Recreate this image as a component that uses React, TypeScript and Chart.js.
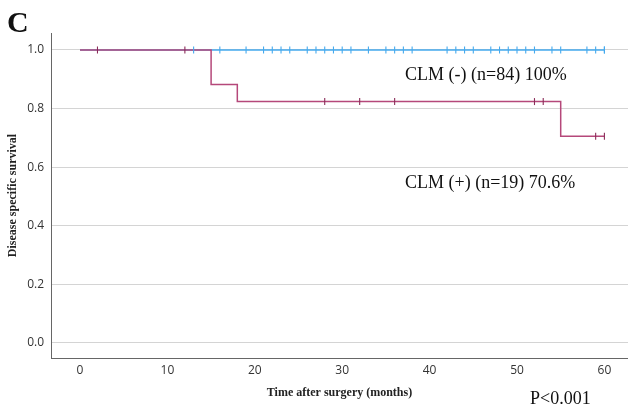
import React, { useEffect, useRef } from 'react';
import { Chart, registerables } from 'chart.js';

Chart.register(...registerables);

// Axis ticks
const timeTicks = [0, 10, 20, 30, 40, 50, 60];
const survivalTicks = [0, 0.2, 0.4, 0.6, 0.8, 1.0];

// CLM (-) group: survival step function
const negStepTimes = [0, 60];
const negStepSurvival = [1.0, 1.0];
// CLM (-) censored observations
const negCensorTimes = [13, 16, 19, 21, 22, 23, 24, 26, 27, 28, 29, 30, 31, 33, 35, 36, 37, 38, 42, 43, 44, 45, 47, 48, 49, 50, 51, 52, 54, 55, 58, 59, 60, 60];
const negCensorSurvival = [1, 1, 1, 1, 1, 1, 1, 1, 1, 1, 1, 1, 1, 1, 1, 1, 1, 1, 1, 1, 1, 1, 1, 1, 1, 1, 1, 1, 1, 1, 1, 1, 1, 1];

// CLM (+) group: survival step function
const posStepTimes = [0, 15, 18, 55, 60];
const posStepSurvival = [1.0, 0.882, 0.824, 0.706, 0.706];
// CLM (+) censored observations
const posCensorTimes = [2, 12, 28, 32, 36, 52, 53, 59, 60];
const posCensorSurvival = [1.0, 1.0, 0.824, 0.824, 0.824, 0.824, 0.824, 0.706, 0.706];

const annotations = [
  { text: 'C', x: 7, y: 32, font: 'bold 30px "Liberation Serif", serif' },
  { text: 'CLM (-) (n=84) 100%', x: 405, y: 80, font: '18px "Liberation Serif", serif' },
  { text: 'CLM (+) (n=19) 70.6%', x: 405, y: 188, font: '18px "Liberation Serif", serif' },
  { text: 'P<0.001', x: 530, y: 404, font: '18px "Liberation Serif", serif' },
];

const BLUE = '#45aaee';
const RED = '#b5487a';
const RED_MARK = '#8a2c58';

const toPoints = (xs: number[], ys: number[]) => xs.map((x, i) => ({ x, y: ys[i] }));

const textPlugin = {
  id: 'textPlugin',
  afterDraw(chart: any) {
    const ctx = chart.ctx;
    ctx.save();
    ctx.fillStyle = '#111';
    ctx.textAlign = 'left';
    ctx.textBaseline = 'alphabetic';
    for (const a of annotations) {
      ctx.font = a.font;
      ctx.fillText(a.text, a.x, a.y);
    }
    ctx.restore();
  },
};

export default function App() {
  const ref = useRef<HTMLCanvasElement | null>(null);
  useEffect(() => {
    if (!ref.current) return;
    const chart = new Chart(ref.current, {
      type: 'line',
      data: {
        datasets: [
          {
            label: 'CLM (-) censored',
            data: toPoints(negCensorTimes, negCensorSurvival),
            showLine: false,
            pointStyle: 'line',
            rotation: 90,
            pointRadius: 3.5,
            pointBorderWidth: 1.1,
            borderColor: BLUE,
            backgroundColor: BLUE,
          },
          {
            label: 'CLM (+) censored',
            data: toPoints(posCensorTimes, posCensorSurvival),
            showLine: false,
            pointStyle: 'line',
            rotation: 90,
            pointRadius: 3.5,
            pointBorderWidth: 1.1,
            borderColor: RED_MARK,
            backgroundColor: RED_MARK,
          },
          {
            label: 'CLM (+)',
            data: toPoints(posStepTimes, posStepSurvival),
            stepped: true,
            borderColor: RED,
            borderWidth: 1.5,
            pointRadius: 0,
            fill: false,
          },
          {
            label: 'CLM (-)',
            data: toPoints(negStepTimes, negStepSurvival),
            stepped: true,
            borderColor: BLUE,
            borderWidth: 1.5,
            pointRadius: 0,
            fill: false,
          },
        ],
      },
      options: {
        animation: false,
        responsive: false,
        devicePixelRatio: 1,
        layout: { autoPadding: false, padding: { top: 33, right: 0, left: 0, bottom: 0 } },
        plugins: {
          legend: { display: false },
          tooltip: { enabled: false },
        },
        scales: {
          x: {
            type: 'linear',
            min: -3.318,
            max: 62.7,
            grid: { display: false, drawTicks: false },
            border: { display: true, color: '#666', width: 1 },
            afterBuildTicks: (s: any) => {
              s.ticks = timeTicks.map((v) => ({ value: v }));
            },
            afterFit: (s: any) => {
              s.height = 53;
              s.paddingLeft = 0;
              s.paddingRight = 0;
            },
            ticks: {
              padding: 5,
              color: '#333',
              font: { family: '"Open Sans", sans-serif', size: 12 },
              callback: (v: any) => String(v),
              maxRotation: 0,
            },
            title: {
              display: true,
              text: 'Time after surgery (months)',
              color: '#222',
              font: { family: '"Liberation Serif", serif', size: 12, weight: 'bold' },
              padding: 11,
            },
          },
          y: {
            type: 'linear',
            min: -0.0512,
            max: 1.058,
            grid: { display: true, drawTicks: false, color: '#d4d4d4', lineWidth: 1 },
            border: { display: true, color: '#666', width: 1 },
            afterBuildTicks: (s: any) => {
              s.ticks = survivalTicks.map((v) => ({ value: v }));
            },
            afterFit: (s: any) => {
              s.width = 51;
              s.paddingTop = 0;
              s.paddingBottom = 0;
            },
            ticks: {
              padding: 7,
              color: '#333',
              font: { family: '"Open Sans", sans-serif', size: 12 },
              callback: (v: any) => Number(v).toFixed(1),
            },
            title: {
              display: true,
              text: 'Disease specific survival',
              color: '#222',
              font: { family: '"Liberation Serif", serif', size: 12, weight: 'bold' },
              padding: 6,
            },
          },
        },
      },
      plugins: [textPlugin],
    } as any);
    return () => chart.destroy();
  }, []);
  return (
    <div style={{ position: 'absolute', left: 0, top: 0, width: 628, height: 411, background: '#fff' }}>
      <canvas ref={ref} width={628} height={411} style={{ display: 'block' }} />
    </div>
  );
}
